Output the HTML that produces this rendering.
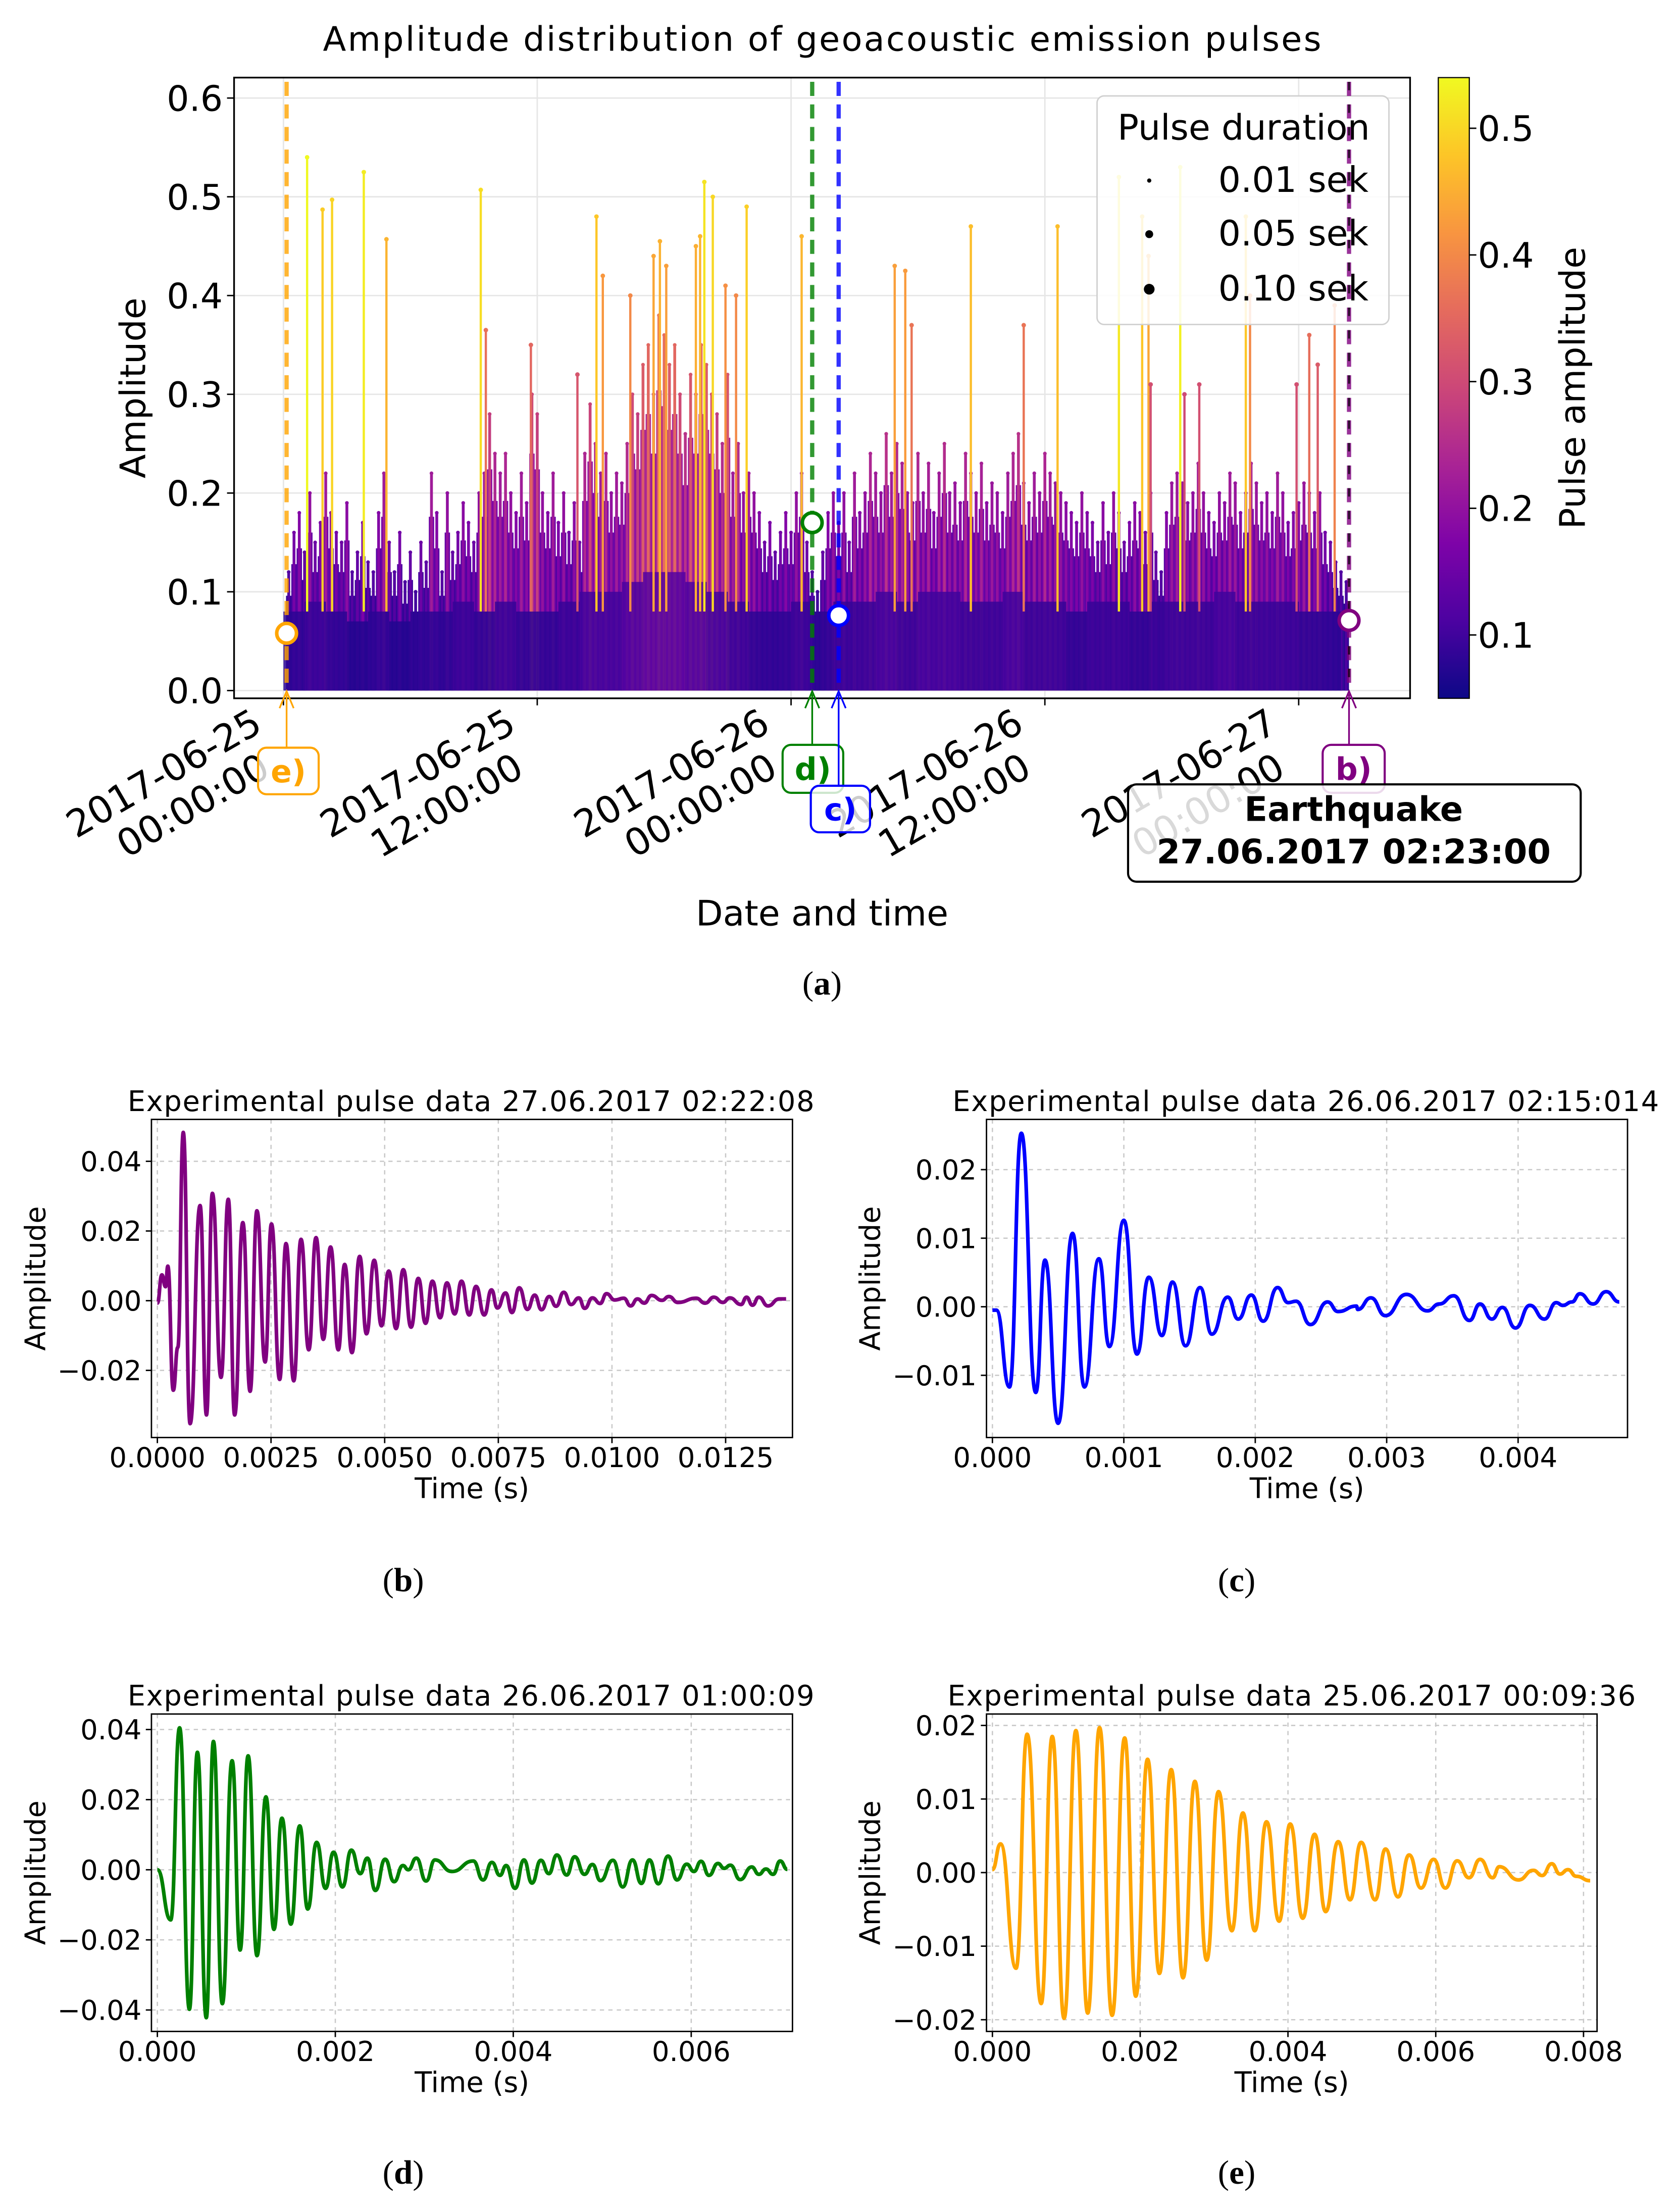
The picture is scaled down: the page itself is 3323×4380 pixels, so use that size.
<!DOCTYPE html>
<html><head><meta charset="utf-8"><style>html,body{margin:0;padding:0;background:#fff}svg{display:block}</style></head>
<body>
<svg id="fig" xmlns="http://www.w3.org/2000/svg" width="3323" height="4380" viewBox="0 0 1190 1568" preserveAspectRatio="none" font-family="DejaVu Sans, Liberation Sans, sans-serif">
<defs>
<linearGradient id="plasmaGrad" x1="0" y1="1" x2="0" y2="0">
<stop offset="0" stop-color="#0d0887"/><stop offset="0.125" stop-color="#4c02a1"/><stop offset="0.25" stop-color="#7e03a8"/><stop offset="0.375" stop-color="#a92395"/><stop offset="0.5" stop-color="#cc4778"/><stop offset="0.625" stop-color="#e56b5d"/><stop offset="0.75" stop-color="#f89540"/><stop offset="0.875" stop-color="#fdc527"/><stop offset="1" stop-color="#f0f921"/>
</linearGradient>
<clipPath id="clipTop"><rect x="166" y="55" width="834" height="440"/></clipPath>
</defs>
<rect width="1190" height="1568" fill="#fff"/>
<g id="topChart"></g>
<g id="panels"></g>
</svg>
<script>
// ===== Top chart data =====
const denseStartHour = 0.25;
const denseStepHour = 0.25;
const denseAmps = [
0.12,0.16,0.18,0.14,0.2,0.15,0.17,0.22,
0.18,0.16,0.15,0.19,0.12,0.14,0.17,0.13,
0.12,0.18,0.22,0.15,0.12,0.16,0.11,0.14,
0.10,0.15,0.13,0.22,0.18,0.12,0.2,0.14,
0.16,0.19,0.17,0.15,0.2,0.22,0.28,0.24,
0.22,0.24,0.2,0.18,0.22,0.19,0.3,0.28,
0.2,0.18,0.22,0.17,0.2,0.16,0.19,0.15,
0.24,0.29,0.25,0.22,0.24,0.2,0.22,0.21,
0.25,0.3,0.28,0.33,0.35,0.3,0.38,0.36,
0.33,0.35,0.3,0.26,0.32,0.3,0.35,0.33,
0.3,0.28,0.25,0.32,0.22,0.25,0.2,0.22,
0.2,0.18,0.15,0.17,0.14,0.16,0.18,0.16,
0.2,0.22,0.15,0.12,0.1,0.14,0.18,0.2,
0.17,0.2,0.15,0.22,0.18,0.2,0.24,0.22,
0.2,0.26,0.22,0.25,0.23,0.2,0.19,0.24,
0.2,0.23,0.18,0.22,0.25,0.2,0.21,0.19,
0.24,0.22,0.2,0.23,0.19,0.21,0.2,0.18,
0.22,0.24,0.26,0.21,0.19,0.22,0.2,0.24,
0.22,0.21,0.2,0.19,0.18,0.17,0.2,0.18,
0.17,0.15,0.19,0.16,0.2,0.18,0.15,0.17,
0.19,0.18,0.16,0.2,0.14,0.12,0.18,0.21,
0.22,0.21,0.19,0.2,0.23,0.2,0.18,0.17,
0.2,0.19,0.22,0.21,0.18,0.2,0.23,0.21,
0.19,0.2,0.18,0.22,0.2,0.17,0.18,0.19,
0.21,0.2,0.18,0.2,0.16,0.15,0.13,0.12,
0.11];
const lowStartHour = 0.5;
const lowStepHour = 1;
const lowAmps = [0.08,0.09,0.08,0.07,0.08,0.07,0.08,0.08,0.09,0.08,0.09,0.08,0.08,0.09,0.1,0.1,0.11,0.12,0.12,0.11,0.1,0.09,0.08,0.08,0.09,0.08,0.09,0.09,0.1,0.09,0.1,0.1,0.09,0.09,0.1,0.09,0.09,0.08,0.09,0.09,0.08,0.09,0.09,0.09,0.1,0.09,0.09,0.09,0.08,0.08];
const spikeHours = [1.12,1.85,2.3,3.8,4.87,9.33,9.57,11.7,13.9,14.8,15.1,16.4,17.5,17.8,18.1,19.5,19.7,19.9,20.3,20.9,21.9,21.4,24.5,28.9,29.4,29.7,32.5,35,36.6,39.5,40.6,40.9,41,42.4,42.6,43.3,45.5,45.7,47.9,48.5,48.9,49.7];
const spikeAmps  = [0.54,0.487,0.497,0.525,0.457,0.507,0.365,0.35,0.32,0.48,0.42,0.4,0.44,0.455,0.43,0.45,0.46,0.515,0.5,0.41,0.49,0.4,0.46,0.43,0.425,0.37,0.47,0.37,0.47,0.52,0.48,0.44,0.31,0.53,0.3,0.31,0.48,0.4,0.31,0.36,0.33,0.39];
const xTickHours = [0,12,24,36,48];
const xTickLabels = [["2017-06-25","00:00:00"],["2017-06-25","12:00:00"],["2017-06-26","00:00:00"],["2017-06-26","12:00:00"],["2017-06-27","00:00:00"]];
const yTicks = [0,0.1,0.2,0.3,0.4,0.5,0.6];
const cbTicks = [0.1,0.2,0.3,0.4,0.5];
const eventHours = [0.15,25.0,26.25,50.38];
const eventAmps = [0.058,0.17,0.076,0.071];
const eventLabels = ["e)","d)","c)","b)"];
const eventColors = ["#ffa500","#008000","#0000ff","#800080"];

const NS="http://www.w3.org/2000/svg";
function el(tag, attrs, parent, text){const e=document.createElementNS(NS,tag);for(const k in attrs)e.setAttribute(k,attrs[k]);if(text!==undefined)e.textContent=text;parent.appendChild(e);return e;}
const xH = h => 201 + h*15;
const yA = v => 489.5 - v*700;
const vmin=0.05,vmax=0.54;
const stops=[[13,8,135],[76,2,161],[126,3,168],[169,35,149],[204,71,120],[229,107,93],[248,149,64],[253,197,39],[240,249,33]];
function cmap(v){let t=(v-vmin)/(vmax-vmin);t=Math.max(0,Math.min(1,t));const p=t*8,i=Math.min(7,Math.floor(p)),f=p-i;const a=stops[i],b=stops[i+1];return `rgb(${Math.round(a[0]+(b[0]-a[0])*f)},${Math.round(a[1]+(b[1]-a[1])*f)},${Math.round(a[2]+(b[2]-a[2])*f)})`;}

const topG=document.getElementById('topChart');


el('text',{x:583,y:36,'text-anchor':'middle','font-size':24,textLength:708,},topG,'Amplitude distribution of geoacoustic emission pulses');
const grid=el('g',{stroke:'#e6e6e6','stroke-width':1},topG);

yTicks.forEach(v=>el('line',{x1:166,x2:1000,y1:yA(v),y2:yA(v)},grid));
xTickHours.forEach(h=>el('line',{x1:xH(h),x2:xH(h),y1:55,y2:495},grid));
const plot=el('g',{'clip-path':'url(#clipTop)'},topG);

denseAmps.forEach((v,i)=>{const x=xH(denseStartHour+i*denseStepHour);
 const u=el('line',{x1:x,x2:x,y1:yA(0),y2:yA(v*0.8),stroke:cmap(v*0.7),'stroke-width':3.8},plot);
 
 const b=el('line',{x1:x,x2:x,y1:yA(0),y2:yA(v),stroke:cmap(v),'stroke-width':2},plot);
 
 el('circle',{cx:x,cy:yA(v),r:1.3,fill:cmap(v)},plot);});
lowAmps.forEach((v,i)=>{const x=xH(lowStartHour+i*lowStepHour);
 const r=el('rect',{x:x-7.5,y:yA(v),width:15.2,height:yA(0)-yA(v),fill:cmap(v),opacity:0.85},plot);
 });
spikeHours.forEach((h,i)=>{const v=spikeAmps[i],x=xH(h);
 const b=el('line',{x1:x,x2:x,y1:yA(0.08),y2:yA(v),stroke:cmap(v),'stroke-width':1.6},plot);
 
 el('circle',{cx:x,cy:yA(v),r:1.6,fill:cmap(v)},plot);});
el('rect',{x:166,y:55,width:834,height:440,fill:'none',stroke:'#000','stroke-width':1.2,},topG);
yTicks.forEach(v=>{el('line',{x1:161,x2:166,y1:yA(v),y2:yA(v),stroke:'#000'},topG);
 const t=el('text',{x:158,y:yA(v)+9,'text-anchor':'end','font-size':25},topG,v.toFixed(1));
 });
xTickHours.forEach((h,i)=>{const x=xH(h);el('line',{x1:x,x2:x,y1:495,y2:500,stroke:'#000'},topG);
 const g=el('g',{transform:`translate(${x-18},${504}) rotate(-30)`},topG);
 
 el('text',{x:-3,y:14,'text-anchor':'end','font-size':26.5},g,xTickLabels[i][0]);
 el('text',{x:-14,y:44,'text-anchor':'end','font-size':26.5},g,xTickLabels[i][1]);});
el('text',{x:103,y:275,'text-anchor':'middle','font-size':25,transform:'rotate(-90 103 275)',},topG,'Amplitude');
el('text',{x:583,y:656,'text-anchor':'middle','font-size':25,},topG,'Date and time');
el('rect',{x:1020,y:55,width:22,height:440,fill:'url(#plasmaGrad)',stroke:'#000','stroke-width':0.8,},topG);
cbTicks.forEach(v=>{const y=495-(v-vmin)/(vmax-vmin)*440;el('line',{x1:1042,x2:1047,y1:y,y2:y,stroke:'#000'},topG);
 const t=el('text',{x:1048,y:y+9,'font-size':25},topG,v.toFixed(1));
 });
el('text',{x:1124,y:275,'text-anchor':'middle','font-size':25,transform:'rotate(-90 1124 275)',},topG,'Pulse amplitude');
const lg=el('g',{},topG);
el('rect',{x:778,y:68,width:207,height:162,rx:5,fill:'#fff','fill-opacity':0.85,stroke:'#d0d0d0'},lg);
el('text',{x:882,y:99,'text-anchor':'middle','font-size':25},lg,'Pulse duration');
[['0.01 sek',1.5,136],['0.05 sek',2.8,174],['0.10 sek',3.8,213]].forEach(e=>{
 const g=el('g',{},lg);
 el('circle',{cx:815,cy:e[2]-8,r:e[1],fill:'#000'},g);el('text',{x:864,y:e[2],'font-size':25},g,e[0]);});
const boxPos=[[183,530,43,33],[555,528,43,34],[575,557,42,33],[938,528,44,34]];
eventHours.forEach((h,i)=>{const x=xH(h),c=eventColors[i];
 const g=el('g',{},topG);
 el('line',{x1:x,x2:x,y1:58,y2:490,stroke:c,'stroke-width':3,'stroke-dasharray':'10,6',opacity:0.8},g);
 if(i===3)el('line',{x1:x,x2:x,y1:58,y2:490,stroke:'#000','stroke-width':1.5,'stroke-dasharray':'6,10',opacity:0.7},g);
 el('circle',{cx:x,cy:yA(eventAmps[i]),r:7,fill:'#fff',stroke:c,'stroke-width':2.5},g);
 const b=boxPos[i];
 el('line',{x1:x,x2:x,y1:b[1],y2:492,stroke:c,'stroke-width':1.2},g);
 el('path',{d:`M${x-5},${502} L${x},${490} L${x+5},${502}`,fill:'none',stroke:c,'stroke-width':1.2},g);
 el('rect',{x:b[0],y:b[1],width:b[2],height:b[3],rx:6,fill:'#fff','fill-opacity':0.8,stroke:c,'stroke-width':1.5},g);
 el('text',{x:b[0]+b[2]/2,y:b[1]+b[3]/2+8,'text-anchor':'middle','font-size':22,'font-weight':'bold',fill:c},g,eventLabels[i]);});
const eq=el('g',{},topG);
el('rect',{x:800,y:556,width:321,height:69,rx:6,fill:'#fff','fill-opacity':0.85,stroke:'#000','stroke-width':1.5},eq);
el('text',{x:960,y:582,'text-anchor':'middle','font-size':24,'font-weight':'bold'},eq,'Earthquake');
el('text',{x:960,y:612,'text-anchor':'middle','font-size':24,'font-weight':'bold'},eq,'27.06.2017 02:23:00');
const capA=el('text',{x:583,y:705,'text-anchor':'middle','font-size':24,'font-family':'Liberation Serif, serif',},topG);
capA.appendChild(document.createTextNode('('));
el('tspan',{'font-weight':'bold'},capA,'a');
capA.appendChild(document.createTextNode(')'));

// ===== Waveform panels data: [time s, amplitude] extrema =====
const pulseB=[[0,-0.0007],[0.0001,0.0074],[0.00018,0.004],[0.00023,0.0099],[0.00035,-0.0257],[0.00045,-0.0134],[0.00057,0.0483],[0.00072,-0.0353],[0.00094,0.0273],[0.00108,-0.0328],[0.00121,0.0308],[0.0014,-0.022],[0.00156,0.0291],[0.0017,-0.0328],[0.00188,0.0224],[0.00204,-0.026],[0.00219,0.0258],[0.00237,-0.0176],[0.00251,0.022],[0.00269,-0.0226],[0.00283,0.0164],[0.003,-0.023],[0.00316,0.0176],[0.00333,-0.0141],[0.00349,0.0181],[0.00365,-0.0111],[0.00381,0.0154],[0.00398,-0.0141],[0.00412,0.0104],[0.00428,-0.0149],[0.00445,0.0127],[0.0046,-0.0095],[0.00477,0.0116],[0.00493,-0.0072],[0.00509,0.0085],[0.00525,-0.008],[0.00541,0.0089],[0.00558,-0.0076],[0.00574,0.0064],[0.0059,-0.0065],[0.00605,0.0056],[0.00622,-0.0049],[0.00637,0.0051],[0.00654,-0.0038],[0.00669,0.0056],[0.00686,-0.0041],[0.00701,0.0041],[0.00719,-0.0041],[0.00735,0.0031],[0.00748,-0.0021],[0.00766,0.0022],[0.0078,-0.0034],[0.00796,0.0037],[0.00814,-0.0025],[0.0083,0.0016],[0.00845,-0.0026],[0.00862,0.0012],[0.00877,-0.0016],[0.00894,0.0024],[0.0091,-0.0011],[0.00927,0.0008],[0.0094,-0.0022],[0.00957,0.0008],[0.00974,-0.0008],[0.00988,0.002],[0.01006,0.0002],[0.01026,0.0007],[0.01041,-0.0015],[0.01056,0.0005],[0.01071,-0.0007],[0.01087,0.0015],[0.0111,0.0001],[0.01125,0.0012],[0.01145,-0.0005],[0.01185,0.0007],[0.01205,-0.0007],[0.01224,0.001],[0.01244,-0.0005],[0.01259,0.0008],[0.01284,-0.0011],[0.01296,0.001],[0.01309,-0.0013],[0.01323,0.001],[0.01343,-0.0015],[0.01368,0.0005],[0.01383,0.0005]];
const pulseC=[[0,-0.0005],[0.00003,-0.0005],[0.00013,-0.0117],[0.00022,0.0253],[0.00033,-0.0125],[0.0004,0.0068],[0.0005,-0.017],[0.00061,0.0107],[0.0007,-0.0117],[0.00081,0.007],[0.00089,-0.0058],[0.001,0.0126],[0.0011,-0.0069],[0.00119,0.0043],[0.00129,-0.0042],[0.00137,0.0036],[0.00147,-0.0057],[0.00158,0.0028],[0.00167,-0.004],[0.00179,0.0014],[0.00187,-0.0018],[0.00197,0.0017],[0.00206,-0.0021],[0.00217,0.0028],[0.00225,0.0006],[0.00231,0.0008],[0.00242,-0.0026],[0.00255,0.0007],[0.00263,-0.0007],[0.00277,0.0001],[0.00278,-0.0004],[0.00288,0.0013],[0.00299,-0.0013],[0.00315,0.0018],[0.00331,-0.0006],[0.0034,0.0004],[0.00351,0.0016],[0.00363,-0.002],[0.00371,0.0004],[0.0038,-0.0018],[0.00388,-0.0001],[0.00398,-0.0031],[0.00409,0.0002],[0.0042,-0.0018],[0.00429,0.0006],[0.00434,0.0002],[0.00441,0.0007],[0.00447,0.0019],[0.00457,0.0004],[0.00467,0.0022],[0.00477,0.0007]];
const pulseD=[[0,0],[0.00015,-0.0143],[0.00025,0.0405],[0.00036,-0.0398],[0.00045,0.0335],[0.00055,-0.0422],[0.00063,0.0366],[0.00073,-0.0382],[0.00084,0.0311],[0.00093,-0.0229],[0.00102,0.0325],[0.00112,-0.0245],[0.00122,0.0208],[0.00131,-0.017],[0.0014,0.0147],[0.0015,-0.0155],[0.0016,0.0125],[0.00169,-0.0112],[0.00179,0.0078],[0.00189,-0.0053],[0.00198,0.005],[0.00208,-0.0049],[0.00218,0.0056],[0.00228,-0.0011],[0.00236,0.0033],[0.00245,-0.0059],[0.00256,0.003],[0.00266,-0.0034],[0.00276,0.0012],[0.00282,0],[0.00291,0.0033],[0.00302,-0.0032],[0.00312,0.0028],[0.00331,-0.0005],[0.00355,0.0025],[0.00366,-0.0029],[0.00376,0.0021],[0.00385,-0.0016],[0.00392,0.0012],[0.00402,-0.0053],[0.00412,0.0028],[0.00421,-0.0038],[0.00431,0.0027],[0.0044,-0.0011],[0.00449,0.0042],[0.0046,-0.0015],[0.00469,0.0037],[0.0048,-0.0013],[0.00489,0.0015],[0.00498,-0.0031],[0.00512,0.0027],[0.00523,-0.0049],[0.00534,0.0028],[0.00544,-0.0039],[0.00553,0.0028],[0.00563,-0.004],[0.00574,0.0039],[0.00584,-0.0029],[0.00595,0.0016],[0.00603,-0.0005],[0.00611,0.0024],[0.0062,-0.0016],[0.0063,0.0018],[0.00637,0.0004],[0.00644,0.0013],[0.00655,-0.0028],[0.00668,0.0008],[0.00676,-0.0013],[0.00684,0.0002],[0.00692,-0.0013],[0.007,0.0025],[0.00708,0.0001]];
const pulseE=[[0,0.0004],[0.00011,0.0039],[0.00032,-0.013],[0.00047,0.0188],[0.00066,-0.0178],[0.00081,0.0185],[0.00097,-0.0198],[0.00113,0.0193],[0.00129,-0.0191],[0.00145,0.0197],[0.00162,-0.0194],[0.00179,0.0183],[0.00194,-0.0168],[0.0021,0.0154],[0.00226,-0.0137],[0.00242,0.014],[0.00258,-0.0143],[0.00274,0.0124],[0.0029,-0.0119],[0.00306,0.011],[0.00324,-0.0079],[0.00339,0.0081],[0.00355,-0.0079],[0.00371,0.0069],[0.00388,-0.0066],[0.00403,0.0066],[0.0042,-0.0062],[0.00436,0.0052],[0.00451,-0.0053],[0.00468,0.0042],[0.00484,-0.0037],[0.00499,0.0041],[0.00518,-0.0037],[0.00532,0.0032],[0.00549,-0.0033],[0.00564,0.0024],[0.0058,-0.0021],[0.00597,0.0018],[0.00613,-0.0021],[0.00629,0.0016],[0.00645,-0.0007],[0.0066,0.0018],[0.00677,-0.0007],[0.00686,0.0008],[0.00712,-0.001],[0.00732,0.0003],[0.00744,-0.0004],[0.00757,0.0012],[0.00768,-0.0002],[0.00779,0.0004],[0.0079,-0.0005],[0.00809,-0.0011]];
const ticksB_x=[0,0.0025,0.005,0.0075,0.01,0.0125], ticksB_y=[0.04,0.02,0,-0.02];
const ticksC_x=[0,0.001,0.002,0.003,0.004], ticksC_y=[0.02,0.01,0,-0.01];
const ticksD_x=[0,0.002,0.004,0.006], ticksD_y=[0.04,0.02,0,-0.02,-0.04];
const ticksE_x=[0,0.002,0.004,0.006,0.008], ticksE_y=[0.02,0.01,0,-0.01,-0.02];

const panelsG=document.getElementById('panels');
function drawPanel(o){
 const g=el('g',{},panelsG);
 
 
 const X=t=>o.x0+t*o.sx, Y=v=>o.y0-v*o.sy;
 const gg=el('g',{stroke:'#c8c8c8','stroke-width':0.9,'stroke-dasharray':'3,3'},g);
 o.xt.forEach(t=>el('line',{x1:X(t),x2:X(t),y1:o.top,y2:o.bot},gg));
 o.yt.forEach(v=>el('line',{x1:o.left,x2:o.right,y1:Y(v),y2:Y(v)},gg));
 let d=`M${X(o.data[0][0])},${Y(o.data[0][1])}`;
 for(let i=1;i<o.data.length;i++){const x0=X(o.data[i-1][0]),y0=Y(o.data[i-1][1]),x1=X(o.data[i][0]),y1=Y(o.data[i][1]),m=(x1-x0)/2;d+=` C${x0+m},${y0} ${x1-m},${y1} ${x1},${y1}`;}
 const p=el('path',{d:d,fill:'none',stroke:o.color,'stroke-width':2.6,'stroke-linejoin':'round'},g);
 
 el('rect',{x:o.left,y:o.top,width:o.right-o.left,height:o.bot-o.top,fill:'none',stroke:'#000','stroke-width':1},g);
 o.xt.forEach(t=>{el('line',{x1:X(t),x2:X(t),y1:o.bot,y2:o.bot+4,stroke:'#000'},g);
  const tx=el('text',{x:X(t),y:o.bot+21,'text-anchor':'middle','font-size':19.5},g,t.toFixed(o.xd));
  });
 o.yt.forEach(v=>{el('line',{x1:o.left-4,x2:o.left,y1:Y(v),y2:Y(v),stroke:'#000'},g);
  const s=(v<0?'\u2212':'')+Math.abs(v).toFixed(2);
  const tx=el('text',{x:o.left-7,y:Y(v)+7,'text-anchor':'end','font-size':19.5},g,s);
  });
 const tt=el('text',{x:o.tc,y:o.top-6,'text-anchor':'middle','font-size':20,textLength:o.tw},g,o.title);
 
 const xl=el('text',{x:(o.left+o.right)/2,y:o.bot+43,'text-anchor':'middle','font-size':20},g,'Time (s)');
 
 const yl=el('text',{x:o.ylx,y:(o.top+o.bot)/2,'text-anchor':'middle','font-size':20,transform:`rotate(-90 ${o.ylx} ${(o.top+o.bot)/2})`},g,'Amplitude');
 
 const cap=el('text',{x:o.cap[0],y:o.cap[1],'text-anchor':'middle','font-size':24,'font-family':'Liberation Serif, serif'},g);
 
 cap.appendChild(document.createTextNode('('));
 el('tspan',{'font-weight':'bold'},cap,o.letter);
 cap.appendChild(document.createTextNode(')'));
}
drawPanel({name:'panel-b',data:pulseB,color:'#800080',x0:111.6,sx:32240,y0:922,sy:2470,left:107.4,right:562,top:793.5,bot:1019,xt:ticksB_x,yt:ticksB_y,xd:4,title:'Experimental pulse data 27.06.2017 02:22:08',tc:334,tw:487,ylx:32,cap:[286,1128],letter:'b'});
drawPanel({name:'panel-c',data:pulseC,color:'#0000ff',x0:703.8,sx:93200,y0:926.3,sy:4860,left:699.6,right:1154.2,top:793.5,bot:1019,xt:ticksC_x,yt:ticksC_y,xd:3,title:'Experimental pulse data 26.06.2017 02:15:014',tc:926,tw:501,ylx:624,cap:[877,1128],letter:'c'});
drawPanel({name:'panel-d',data:pulseD,color:'#008000',x0:111.6,sx:63100,y0:1325.4,sy:2485,left:107.4,right:562,top:1215,bot:1440,xt:ticksD_x,yt:ticksD_y,xd:3,title:'Experimental pulse data 26.06.2017 01:00:09',tc:334,tw:487,ylx:32,cap:[286,1548],letter:'d'});
drawPanel({name:'panel-e',data:pulseE,color:'#ffa500',x0:703.8,sx:52400,y0:1327.4,sy:5215,left:699.6,right:1132.6,top:1215,bot:1440,xt:ticksE_x,yt:ticksE_y,xd:3,title:'Experimental pulse data 25.06.2017 00:09:36',tc:916,tw:488,ylx:624,cap:[877,1548],letter:'e'});
</script>
</body></html>
